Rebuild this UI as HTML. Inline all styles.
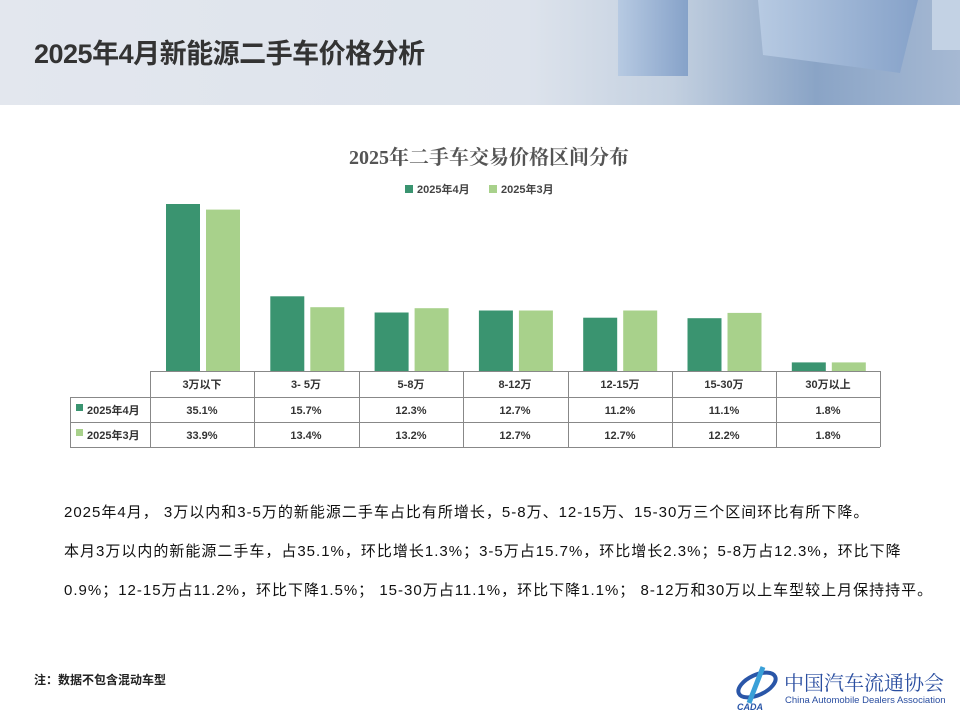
<!DOCTYPE html>
<html><head><meta charset="utf-8"><style>
body{margin:0;width:960px;height:720px;overflow:hidden;background:#fff;font-family:"Liberation Sans","Noto Sans CJK SC",sans-serif;position:relative}
.hdr{position:absolute;left:0;top:0;width:960px;height:105px;background:linear-gradient(90deg,#e3e7ee 0%,#dde3ec 55%,#c3d0e0 70%,#8aa4c6 85%,#a6b9d3 100%)}
.t{position:absolute;left:34px;top:32px;font-size:27px;font-weight:bold;color:#333;letter-spacing:-0.5px;white-space:nowrap}
.p{position:absolute;left:64px;font-size:15px;letter-spacing:1px;color:#111;white-space:nowrap}
</style></head><body>
<div class="hdr">
<svg width="960" height="105" style="position:absolute;left:0;top:0">
<defs><linearGradient id="c" x1="0" x2="1"><stop offset="0" stop-color="#b7cae2"/><stop offset="1" stop-color="#86a2c9"/></linearGradient></defs>
<rect x="618" y="0" width="70" height="76" fill="url(#c)"/>
<path d="M758 0 L918 0 L900 73 L763 55 Z" fill="url(#c)"/>
<rect x="932" y="0" width="28" height="50" fill="#c3d2e4"/>
</svg>
<div class="t">2025年4月新能源二手车价格分析</div>
</div>
<svg width="960" height="460" style="position:absolute;left:0;top:140px" font-family="Liberation Sans,Noto Sans CJK SC,sans-serif">
<g transform="translate(0,-140)">
<text x="489" y="164" text-anchor="middle" font-size="20" font-weight="bold" fill="#555" font-family="Liberation Serif,Noto Serif CJK SC,serif">2025年二手车交易价格区间分布</text>
<rect x="405" y="185" width="8" height="8" fill="#3a9470"/><text x="417" y="193" font-size="11" font-weight="bold" fill="#444">2025年4月</text>
<rect x="489" y="185" width="8" height="8" fill="#a8d18b"/><text x="501" y="193" font-size="11" font-weight="bold" fill="#444">2025年3月</text>
<g fill="#3a9470">
<rect x="166" y="204" width="34" height="167"/><rect x="270.3" y="296.3" width="34" height="74.7"/><rect x="374.6" y="312.5" width="34" height="58.5"/><rect x="478.9" y="310.5" width="34" height="60.5"/><rect x="583.2" y="317.7" width="34" height="53.3"/><rect x="687.5" y="318.2" width="34" height="52.8"/><rect x="791.8" y="362.4" width="34" height="8.6"/>
</g>
<g fill="#a8d18b">
<rect x="206" y="209.6" width="34" height="161.4"/><rect x="310.3" y="307.2" width="34" height="63.8"/><rect x="414.6" y="308.2" width="34" height="62.8"/><rect x="518.9" y="310.5" width="34" height="60.5"/><rect x="623.2" y="310.5" width="34" height="60.5"/><rect x="727.5" y="312.9" width="34" height="58.1"/><rect x="831.8" y="362.4" width="34" height="8.6"/>
</g>
<g stroke="#888" stroke-width="1" fill="none">
<line x1="150" y1="371.5" x2="880" y2="371.5"/><line x1="70" y1="397.5" x2="880" y2="397.5"/><line x1="70" y1="422.5" x2="880" y2="422.5"/><line x1="70" y1="447.5" x2="880" y2="447.5"/>
<line x1="70.5" y1="397" x2="70.5" y2="447"/>
<line x1="150.5" y1="371" x2="150.5" y2="447"/><line x1="254.5" y1="371" x2="254.5" y2="447"/><line x1="359.5" y1="371" x2="359.5" y2="447"/><line x1="463.5" y1="371" x2="463.5" y2="447"/><line x1="568.5" y1="371" x2="568.5" y2="447"/><line x1="672.5" y1="371" x2="672.5" y2="447"/><line x1="776.5" y1="371" x2="776.5" y2="447"/><line x1="880.5" y1="371" x2="880.5" y2="447"/>
</g>
<g font-size="11" font-weight="bold" fill="#333" text-anchor="middle">
<text x="202" y="388">3万以下</text><text x="306" y="388">3- 5万</text><text x="411" y="388">5-8万</text><text x="515" y="388">8-12万</text><text x="620" y="388">12-15万</text><text x="724" y="388">15-30万</text><text x="828" y="388">30万以上</text>
<text x="202" y="414">35.1%</text><text x="306" y="414">15.7%</text><text x="411" y="414">12.3%</text><text x="515" y="414">12.7%</text><text x="620" y="414">11.2%</text><text x="724" y="414">11.1%</text><text x="828" y="414">1.8%</text>
<text x="202" y="439">33.9%</text><text x="306" y="439">13.4%</text><text x="411" y="439">13.2%</text><text x="515" y="439">12.7%</text><text x="620" y="439">12.7%</text><text x="724" y="439">12.2%</text><text x="828" y="439">1.8%</text>
</g>
<rect x="76" y="404" width="7" height="7" fill="#3a9470"/><text x="87" y="414" font-size="11" font-weight="bold" fill="#333">2025年4月</text>
<rect x="76" y="429" width="7" height="7" fill="#a8d18b"/><text x="87" y="439" font-size="11" font-weight="bold" fill="#333">2025年3月</text>
</g></svg>
<div class="p" style="top:501px">2025年4月， 3万以内和3-5万的新能源二手车占比有所增长，5-8万、12-15万、15-30万三个区间环比有所下降。</div>
<div class="p" style="top:540px">本月3万以内的新能源二手车，占35.1%，环比增长1.3%；3-5万占15.7%，环比增长2.3%；5-8万占12.3%，环比下降</div>
<div class="p" style="top:579px">0.9%；12-15万占11.2%，环比下降1.5%； 15-30万占11.1%，环比下降1.1%； 8-12万和30万以上车型较上月保持持平。</div>
<div style="position:absolute;left:34px;top:671px;font-size:12px;font-weight:bold;color:#222">注：数据不包含混动车型</div>
<svg width="60" height="50" style="position:absolute;left:733px;top:663px"><ellipse cx="24" cy="22" rx="20" ry="10" fill="none" stroke="#2a56a8" stroke-width="4" transform="rotate(-25 24 22)"/><path d="M30 4 L16 40" stroke="#3aa0d8" stroke-width="5"/><text x="4" y="47" font-size="9" font-style="italic" font-weight="bold" fill="#2a56a8">CADA</text></svg>
<div style="position:absolute;left:784px;top:667px;font-size:20px;color:#2a4ea0;font-family:'Liberation Serif','Noto Serif CJK SC',serif;white-space:nowrap">中国汽车流通协会</div>
<div style="position:absolute;left:785px;top:695px;font-size:9.5px;color:#2a4ea0;white-space:nowrap">China Automobile Dealers Association</div>
</body></html>
